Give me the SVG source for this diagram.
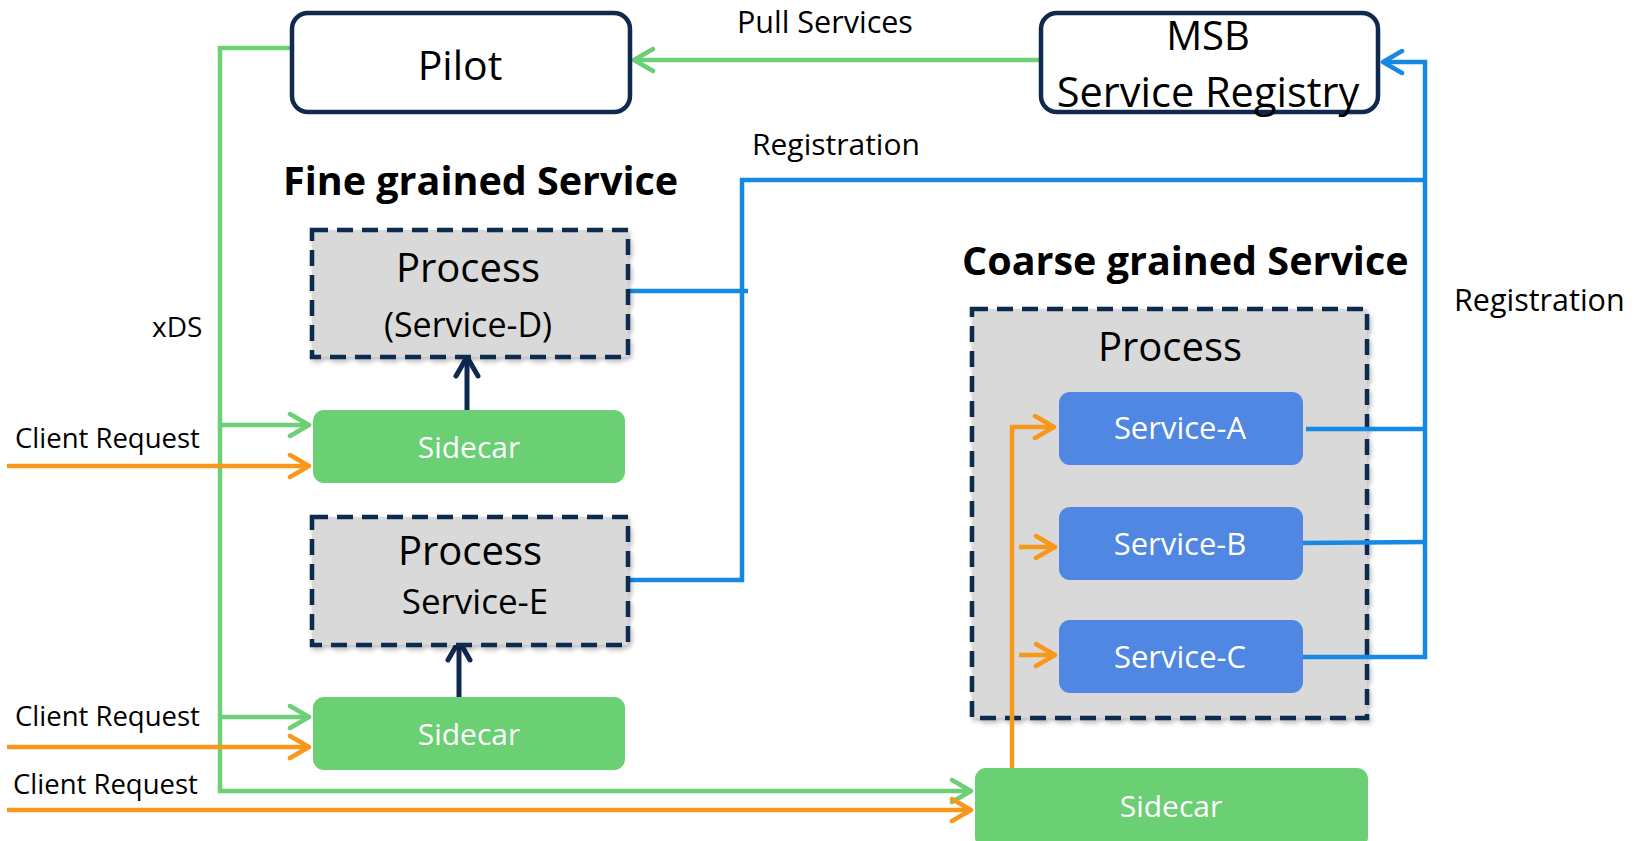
<svg xmlns="http://www.w3.org/2000/svg" width="1639" height="841" viewBox="0 0 1639 841">
<defs>
<style>
text{font-family:"Open Sans","Liberation Sans",sans-serif;fill:#000}
.box{fill:#fff;stroke:#10294f;stroke-width:4.5}
.proc{fill:#d9d9d9;stroke:#10294f;stroke-width:4.5;stroke-dasharray:16 9}
.side{fill:#6bcf74}
.svc{fill:#4f87e2}
.wt{fill:#fff}
.g{fill:none;stroke:#6dcf76;stroke-width:4.5}
.o{fill:none;stroke:#f7981a;stroke-width:4.5}
.b{fill:none;stroke:#1689e4;stroke-width:4.5}
.n{fill:none;stroke:#10294f;stroke-width:5}
.hd{font-weight:bold;font-size:39.5px}
</style>
<filter id="sh" x="-10%" y="-10%" width="120%" height="130%">
<feDropShadow dx="2" dy="3" stdDeviation="2" flood-color="#000" flood-opacity="0.25"/>
</filter>
<marker id="ag" viewBox="-24 -14 28 28" markerWidth="28" markerHeight="28" refX="0" refY="0" orient="auto" markerUnits="userSpaceOnUse">
<path d="M-19 -11 L0 0 L-19 11" fill="none" stroke="#6dcf76" stroke-width="4.5" stroke-linecap="round" stroke-linejoin="round"/>
</marker>
<marker id="ao" viewBox="-24 -14 28 28" markerWidth="28" markerHeight="28" refX="0" refY="0" orient="auto" markerUnits="userSpaceOnUse">
<path d="M-19 -11 L0 0 L-19 11" fill="none" stroke="#f7981a" stroke-width="4.5" stroke-linecap="round" stroke-linejoin="round"/>
</marker>
<marker id="ab" viewBox="-24 -14 28 28" markerWidth="28" markerHeight="28" refX="0" refY="0" orient="auto" markerUnits="userSpaceOnUse">
<path d="M-19 -11 L0 0 L-19 11" fill="none" stroke="#1689e4" stroke-width="4.5" stroke-linecap="round" stroke-linejoin="round"/>
</marker>
<marker id="an" viewBox="-24 -14 28 28" markerWidth="28" markerHeight="28" refX="0" refY="0" orient="auto" markerUnits="userSpaceOnUse">
<path d="M-19 -11 L0 0 L-19 11" fill="none" stroke="#10294f" stroke-width="5" stroke-linecap="round" stroke-linejoin="round"/>
</marker>
</defs>
<rect width="1639" height="841" fill="#fff"/>

<g id="process-big">
<rect class="proc" x="972" y="309" width="395" height="409" filter="url(#sh)"/>
<text x="1170" y="361" font-size="40" text-anchor="middle">Process</text>
</g>

<g id="connectors">
<path class="g" d="M292 48 H220 V791 H971" marker-end="url(#ag)"/>
<path class="g" d="M220 425 H309" marker-end="url(#ag)"/>
<path class="g" d="M220 717 H309" marker-end="url(#ag)"/>
<path class="g" d="M1041 60 H634" marker-end="url(#ag)"/>
<path class="o" d="M7 466 H309" marker-end="url(#ao)"/>
<path class="o" d="M7 747 H309" marker-end="url(#ao)"/>
<path class="o" d="M7 810 H971" marker-end="url(#ao)"/>
<path class="o" d="M1012 768 V427 H1054" marker-end="url(#ao)"/>
<path class="o" d="M1019 547 H1055" marker-end="url(#ao)"/>
<path class="o" d="M1019 655 H1055" marker-end="url(#ao)"/>
<path class="b" d="M628 580 H742 V180 H1425"/>
<path class="b" d="M628 291 H748"/>
<path class="b" d="M1302 657 H1425 V62 H1383" marker-end="url(#ab)"/>
<path class="b" d="M1306 429 H1425"/>
<path class="b" d="M1302 543 L1425 542"/>
<path class="n" d="M467 410 V357" marker-end="url(#an)"/>
<path class="n" d="M459 697 V641" marker-end="url(#an)"/>
</g>

<g id="pilot">
<rect class="box" x="292" y="13" width="338" height="99" rx="16"/>
<text x="460" y="80" font-size="41" text-anchor="middle">Pilot</text>
</g>

<g id="msb">
<rect class="box" x="1041" y="13" width="337" height="99" rx="16"/>
<text x="1208" y="50" font-size="40" text-anchor="middle">MSB</text>
<text x="1208" y="107" font-size="41.5" text-anchor="middle">Service Registry</text>
</g>

<g id="labels">
<text x="737" y="33" font-size="30.5">Pull Services</text>
<text x="752" y="155" font-size="30">Registration</text>
<text x="1454" y="311" font-size="30.5">Registration</text>
<text x="152" y="337" font-size="28">xDS</text>
<text x="15" y="448" font-size="27.5">Client Request</text>
<text x="15" y="726" font-size="27.5">Client Request</text>
<text x="13" y="794" font-size="27.5">Client Request</text>
<text class="hd" x="283" y="195">Fine grained Service</text>
<text class="hd" x="962" y="275">Coarse grained Service</text>
</g>

<g id="process-d">
<rect class="proc" x="312" y="230" width="316" height="127" filter="url(#sh)"/>
<text x="468" y="282" font-size="40" text-anchor="middle">Process</text>
<text x="468" y="337" font-size="34" text-anchor="middle">(Service-D)</text>
</g>

<g id="sidecar-d">
<rect class="side" x="313" y="410" width="312" height="73" rx="11"/>
<text class="wt" x="469" y="458" font-size="30" text-anchor="middle">Sidecar</text>
</g>

<g id="process-e">
<rect class="proc" x="312" y="517" width="316" height="128" filter="url(#sh)"/>
<text x="470" y="565" font-size="40" text-anchor="middle">Process</text>
<text x="475" y="614" font-size="35" text-anchor="middle">Service-E</text>
</g>

<g id="sidecar-e">
<rect class="side" x="313" y="697" width="312" height="73" rx="11"/>
<text class="wt" x="469" y="745" font-size="30" text-anchor="middle">Sidecar</text>
</g>

<g id="service-a">
<rect class="svc" x="1059" y="392" width="244" height="73" rx="11"/>
<text class="wt" x="1180" y="439" font-size="31" text-anchor="middle">Service-A</text>
</g>
<g id="service-b">
<rect class="svc" x="1059" y="507" width="244" height="73" rx="11"/>
<text class="wt" x="1180" y="555" font-size="31" text-anchor="middle">Service-B</text>
</g>
<g id="service-c">
<rect class="svc" x="1059" y="620" width="244" height="73" rx="11"/>
<text class="wt" x="1180" y="668" font-size="31" text-anchor="middle">Service-C</text>
</g>

<g id="sidecar-coarse">
<rect class="side" x="975" y="768" width="393" height="80" rx="11"/>
<text class="wt" x="1171" y="817" font-size="30" text-anchor="middle">Sidecar</text>
</g>
</svg>
